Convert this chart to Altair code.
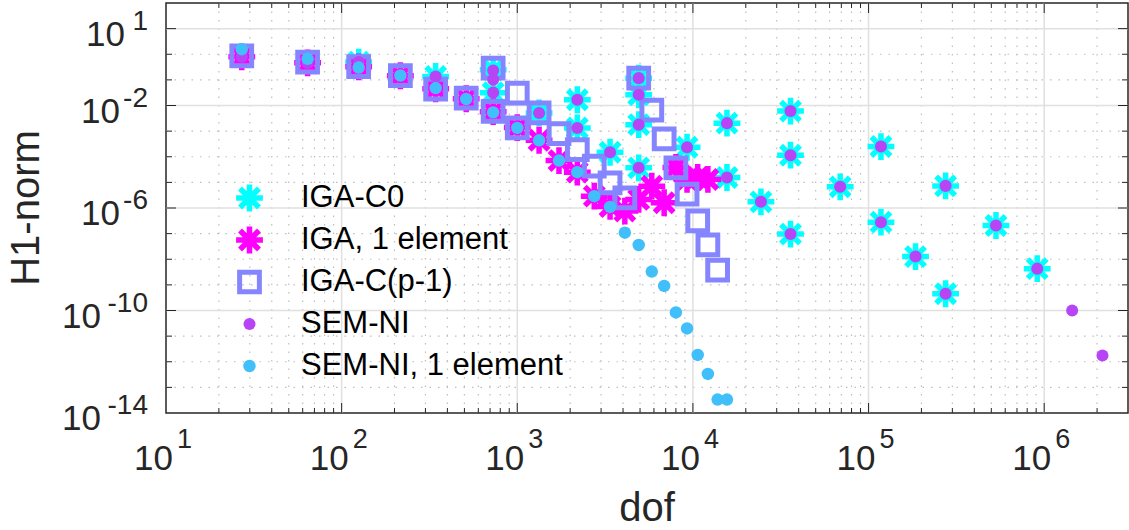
import altair as alt
import pandas as pd

# ---------------- data ----------------
series_names = ["IGA-C0", "IGA, 1 element", "IGA-C(p-1)", "SEM-NI", "SEM-NI, 1 element"]

iga_c0_dof = [125, 343, 729, 729, 1331, 2197, 2197, 3375, 4913, 4913, 4913, 4913, 9261,
              15625, 15625, 24389, 35937, 35937, 35937, 68921, 117649, 117649, 185193,
              274625, 274625, 531441, 912673]
iga_c0_err = [0.493, 0.1355, 0.247, 0.0315, 5.1e-3, 0.0168, 1.33e-3, 1.5e-4, 0.117, 0.0263,
              1.79e-3, 3.7e-5, 2.34e-4, 2.05e-3, 1.55e-5, 1.74e-6, 6.05e-3, 1.15e-4, 9.6e-8,
              6.7e-6, 2.5e-4, 2.8e-7, 1.27e-8, 7.3e-6, 4.5e-10, 2.07e-7, 4.3e-9]

iga_1el_dof = [27, 64, 125, 216, 343, 512, 729, 1000, 1331, 1728, 2197, 2744, 3375, 4096,
               4913, 5832, 6859, 8000, 9261, 10648, 12167]
iga_1el_err = [0.792, 0.462, 0.324, 0.145, 0.045, 0.0184, 5.74e-3, 1.37e-3, 4.39e-4, 7.1e-5,
               2.5e-5, 2.9e-6, 1.15e-6, 7.6e-7, 2.16e-6, 7.1e-6, 1.6e-6, 3.8e-5, 1.3e-5,
               1.55e-5, 1.3e-5]

iga_cp1_dof = [27, 64, 125, 216, 343, 512, 729, 729, 1000, 1000, 1331, 1728, 2197, 2744, 3375,
               4096, 4913, 5832, 6859, 8000, 9261, 10648, 12167, 13824]
iga_cp1_err = [0.867, 0.493, 0.332, 0.145, 0.0439, 0.0196, 0.288, 5.9e-3, 0.0306, 1.33e-3,
               5.1e-3, 8.0e-4, 1.9e-4, 4.27e-5, 9.6e-6, 2.5e-6, 0.117, 6.6e-3, 5.0e-4, 3.7e-5,
               3.5e-6, 3.15e-7, 3.6e-8, 3.8e-9]

sem_dof = [27, 64, 125, 343, 729, 729, 729, 1331, 2197, 2197, 3375, 4913, 4913, 4913, 4913,
           9261, 15625, 15625, 24389, 35937, 35937, 35937, 68921, 117649, 117649, 185193,
           274625, 274625, 531441, 912673, 1442897, 2146689]
sem_err = [0.792, 0.462, 0.493, 0.1355, 0.232, 0.101, 0.0324, 5.1e-3, 0.0168, 1.33e-3, 1.5e-4,
           0.117, 0.0263, 1.79e-3, 3.7e-5, 2.34e-4, 2.05e-3, 1.55e-5, 1.74e-6, 6.05e-3,
           1.15e-4, 9.6e-8, 6.7e-6, 2.5e-4, 2.8e-7, 1.27e-8, 7.3e-6, 4.5e-10, 2.07e-7, 4.3e-9,
           1.0e-10, 1.74e-12]

sem_1el_dof = [27, 64, 125, 216, 343, 512, 729, 1000, 1331, 1728, 2197, 2744, 3375, 4096,
               4913, 5832, 6859, 8000, 9261, 10648, 12167, 13824, 15625]
sem_1el_err = [1.58, 0.662, 0.303, 0.148, 0.048, 0.0179, 5.4e-3, 1.33e-3, 4.39e-4, 7.1e-5,
               2.5e-5, 2.9e-6, 1.1e-6, 1.09e-7, 3.6e-8, 3.3e-9, 9.1e-10, 8.4e-11, 2.0e-11,
               1.84e-12, 3.35e-13, 3.35e-14, 3.35e-14]

x_tick_vals = [1e1, 1e2, 1e3, 1e4, 1e5, 1e6]
x_tick_exps = ["1", "2", "3", "4", "5", "6"]
y_tick_vals = [1e1, 1e-2, 1e-6, 1e-10, 1e-14]
y_tick_exps = ["1", "-2", "-6", "-10", "-14"]

# ---------------- styling ----------------
W, H = 962, 410
FONT = "Liberation Sans"
TXT = "#262626"
colors = ["#00FFFF", "#FF00FF", "#8585FF", "#B845F5", "#41BFFB"]
fills = ["transparent", "transparent", "transparent", "#B845F5", "#41BFFB"]
ASTER = ("M-1,0L1,0M0,-1L0,1M-0.7071,-0.7071L0.7071,0.7071"
         "M-0.7071,0.7071L0.7071,-0.7071")
shapes = [ASTER, ASTER, "square", "circle", "circle"]
sizes = [720, 720, 390, 145, 155]
swidths = [5.5, 5.5, 5, 0, 0]

rows = []
for name, xs, ys in zip(series_names,
                        [iga_c0_dof, iga_1el_dof, iga_cp1_dof, sem_dof, sem_1el_dof],
                        [iga_c0_err, iga_1el_err, iga_cp1_err, sem_err, sem_1el_err]):
    for xv, yv in zip(xs, ys):
        rows.append({"series": name, "dof": xv, "err": yv})
df = pd.DataFrame(rows)

xs_ = alt.Scale(type="log", domain=[10, 3e6], nice=False)
ys_ = alt.Scale(type="log", domain=[1e-14, 1e2], nice=False)

leg = alt.Legend(title=None, orient="none", legendX=67, legendY=180,
                 labelFont=FONT, labelFontSize=31, labelColor="#000000", labelLimit=0,
                 clipHeight=30, rowPadding=11, labelOffset=35, symbolOffset=0, padding=0)

def sc(rng):
    return alt.Scale(type="ordinal", domain=series_names, range=rng)

points = alt.Chart(df).mark_point(filled=False, opacity=1).encode(
    x=alt.X("dof:Q", scale=xs_, axis=None),
    y=alt.Y("err:Q", scale=ys_, axis=None),
    shape=alt.Shape("series:N", scale=sc(shapes), legend=leg),
    stroke=alt.Stroke("series:N", scale=sc(colors), legend=leg),
    fill=alt.Fill("series:N", scale=sc(fills), legend=leg),
    size=alt.Size("series:N", scale=sc(sizes), legend=leg),
    strokeWidth=alt.StrokeWidth("series:N", scale=sc(swidths), legend=leg),
)

# ---------------- grid ----------------
x_major = [1e2, 1e3, 1e4, 1e5, 1e6]
x_minor = [m * 10 ** k for k in range(1, 7) for m in range(2, 10) if m * 10 ** k < 3e6]
y_major = [1e1, 1e-2, 1e-6, 1e-10]
y_minor = [10.0 ** k for k in range(-13, 2) if k not in (1, -2, -6, -10)]
y_all = [10.0 ** k for k in range(-13, 2)]

def vrules(vals, **kw):
    return alt.Chart(pd.DataFrame({"v": vals})).mark_rule(**kw).encode(
        x=alt.X("v:Q", scale=xs_, axis=None))

def hrules(vals, **kw):
    return alt.Chart(pd.DataFrame({"v": vals})).mark_rule(**kw).encode(
        y=alt.Y("v:Q", scale=ys_, axis=None))

grid = [
    vrules(x_minor, color="#BEBEBE", strokeWidth=1.2, strokeDash=[1.5, 7]),
    hrules(y_minor, color="#BEBEBE", strokeWidth=1.2, strokeDash=[1.5, 7]),
    vrules(x_major, color="#E0E0E0", strokeWidth=1.5),
    hrules(y_major, color="#E0E0E0", strokeWidth=1.5),
]

# ---------------- ticks (inward, MATLAB box) ----------------
def xticks(vals, length):
    d = pd.DataFrame({"v": vals})
    b = alt.Chart(d).mark_rule(color=TXT, strokeWidth=1).encode(
        x=alt.X("v:Q", scale=xs_, axis=None), y=alt.value(H), y2=alt.value(H - length))
    t = alt.Chart(d).mark_rule(color=TXT, strokeWidth=1).encode(
        x=alt.X("v:Q", scale=xs_, axis=None), y=alt.value(0), y2=alt.value(length))
    return [b, t]

def yticks(vals, length):
    d = pd.DataFrame({"v": vals})
    l = alt.Chart(d).mark_rule(color=TXT, strokeWidth=1).encode(
        y=alt.Y("v:Q", scale=ys_, axis=None), x=alt.value(0), x2=alt.value(length))
    r = alt.Chart(d).mark_rule(color=TXT, strokeWidth=1).encode(
        y=alt.Y("v:Q", scale=ys_, axis=None), x=alt.value(W), x2=alt.value(W - length))
    return [l, r]

ticks = (xticks(x_major, 10) + xticks(x_minor, 5) +
         yticks(y_major, 10) + yticks([v for v in y_all if v not in y_major], 6))

# ---------------- tick labels ----------------
xt = pd.DataFrame({"v": x_tick_vals, "e": x_tick_exps})
xbase = alt.Chart(xt).mark_text(align="right", baseline="alphabetic", dx=7, font=FONT,
                                fontSize=35, color=TXT).encode(
    x=alt.X("v:Q", scale=xs_, axis=None), y=alt.value(H + 57), text=alt.value("10"))
xexp = alt.Chart(xt).mark_text(align="left", baseline="alphabetic", dx=11, font=FONT,
                               fontSize=27, color=TXT).encode(
    x=alt.X("v:Q", scale=xs_, axis=None), y=alt.value(H + 35), text="e:N")

yt = pd.DataFrame({"v": y_tick_vals, "e": y_tick_exps})
yexp = alt.Chart(yt).mark_text(align="right", baseline="alphabetic", dy=1, font=FONT,
                               fontSize=28, color=TXT).encode(
    y=alt.Y("v:Q", scale=ys_, axis=None), x=alt.value(-18), text="e:N")
ybase = []
for n, off in [(1, 24), (2, 29), (3, 48)]:
    ybase.append(alt.Chart(yt).transform_filter(f"length(datum.e) == {n}").mark_text(
        align="right", baseline="alphabetic", dy=17, font=FONT, fontSize=35, color=TXT).encode(
        y=alt.Y("v:Q", scale=ys_, axis=None), x=alt.value(-17 - off), text=alt.value("10")))

# ---------------- axis titles ----------------
xtitle = alt.Chart(pd.DataFrame({"t": ["dof"]})).mark_text(
    font=FONT, fontSize=40, color=TXT, baseline="middle").encode(
    text="t:N", x=alt.value(W / 2), y=alt.value(H + 96))
ytitle = alt.Chart(pd.DataFrame({"t": ["H1-norm"]})).mark_text(
    font=FONT, fontSize=40, color=TXT, angle=270, baseline="middle").encode(
    text="t:N", x=alt.value(-139), y=alt.value(H / 2))

chart = alt.layer(*grid, points, *ticks, xbase, xexp, yexp, *ybase, xtitle, ytitle).properties(
    width=W, height=H,
    padding={"left": 166, "top": 3, "right": 1, "bottom": 117},
    autosize=alt.AutoSizeParams(type="none"),
).configure_view(stroke="#262626", strokeWidth=1.5)

chart.save("out.html", embed_options={"renderer": "svg", "actions": False})
